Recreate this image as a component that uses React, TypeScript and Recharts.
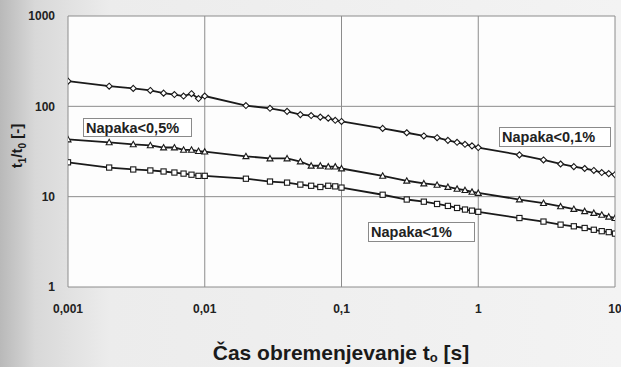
import React from "react";
import { LineChart, Line, XAxis, YAxis, CartesianGrid } from "recharts";

// time points [s]
const TIMES = [
    0.001, 0.002, 0.003, 0.004, 0.005, 0.006, 0.007, 0.008, 0.009,
    0.01, 0.02, 0.03, 0.04, 0.05, 0.06, 0.07, 0.08, 0.09,
    0.1, 0.2, 0.3, 0.4, 0.5, 0.6, 0.7, 0.8, 0.9,
    1, 2, 3, 4, 5, 6, 7, 8, 9, 10,
];

// t1/t0 per error limit
const ERR_01 = [
    190, 167, 158, 150, 140, 135, 130, 138, 122,
    130, 102, 95, 88, 81, 79, 76, 74, 70,
    68, 57, 51, 47, 45, 42, 40, 38, 36.5,
    35, 29, 25.5, 23, 21.5, 20.5, 19.5, 18.5, 18, 17.5,
];
const ERR_05 = [
    43, 40, 38, 37, 35, 35, 33, 33, 32,
    31.5, 28, 26.5, 26.5, 24.5, 22, 22, 21.5, 21.5,
    20.5, 17, 15, 14, 13.5, 12.8, 12.2, 11.8, 11.3,
    11, 9.3, 8.5, 7.8, 7.3, 6.9, 6.6, 6.3, 6.0, 5.8,
];
const ERR_1 = [
    24, 21, 20, 19.5, 19, 18.5, 18, 17.5, 17,
    17, 15.8, 14.7, 14.3, 13.6, 13.2, 12.8, 13.2, 13,
    12.6, 10.5, 9.3, 8.8, 8.3, 7.9, 7.5, 7.2, 7.0,
    6.8, 5.8, 5.3, 4.9, 4.7, 4.5, 4.3, 4.15, 4.05, 3.9,
];

const X_TICKS = [0.001, 0.01, 0.1, 1, 10];
const Y_TICKS = [1, 10, 100, 1000];

const toData = (vals: number[]) => TIMES.map((t, i) => ({ t, v: vals[i] }));

const INK = "#1a1a1a";
const FONT = "'Liberation Sans', Arial, sans-serif";

const Diamond = (p: any) => {
    const { cx, cy } = p;
    if (cx == null || cy == null) return null;
    const r = 3;
    return <path d={`M${cx},${cy - r}L${cx + r},${cy}L${cx},${cy + r}L${cx - r},${cy}Z`} fill="#fff" stroke={INK} strokeWidth={1.1} />;
};
const Triangle = (p: any) => {
    const { cx, cy } = p;
    if (cx == null || cy == null) return null;
    const r = 3;
    return <path d={`M${cx},${cy - r}L${cx + r},${cy + r * 0.8}L${cx - r},${cy + r * 0.8}Z`} fill="#fff" stroke={INK} strokeWidth={1.1} />;
};
const Square = (p: any) => {
    const { cx, cy } = p;
    if (cx == null || cy == null) return null;
    const r = 2.6;
    return <rect x={cx - r} y={cy - r} width={r * 2} height={r * 2} fill="#fff" stroke={INK} strokeWidth={1.1} />;
};

const fmt = (v: number) => String(v).replace(".", ",");

const boxStyle: React.CSSProperties = {
    position: "absolute",
    background: "#fff",
    border: "1px solid #8a8a8a",
    fontFamily: FONT,
    fontSize: 14.5,
    fontWeight: 700,
    color: "#222",
    lineHeight: "18px",
    paddingLeft: 2,
    boxSizing: "border-box",
    whiteSpace: "nowrap",
};

export default function App() {
    return (
        <div
            style={{
                position: "absolute",
                left: 0,
                top: 0,
                width: 621,
                height: 367,
                background: "linear-gradient(to right, #b9b9b9 0px, #d8d8d8 35px, #ececec 110px, #f3f3f3 100%)",
                fontFamily: FONT,
            }}
        >
            <LineChart width={621} height={367} data={toData(ERR_01)} margin={{ top: 16, right: 6, bottom: 50, left: 0 }}>
                <CartesianGrid stroke="#8c8c8c" fill="#fdfdfd" horizontalValues={Y_TICKS} verticalValues={X_TICKS} />
                <XAxis
                    dataKey="t"
                    type="number"
                    scale="log"
                    domain={[0.001, 10]}
                    ticks={X_TICKS}
                    tickFormatter={fmt}
                    allowDataOverflow
                    axisLine={false}
                    tickLine={false}
                    height={30}
                    tick={{ fontSize: 12, fontWeight: 700, fill: "#222", fontFamily: FONT }}
                    tickMargin={11}
                    interval={0}
                />
                <YAxis
                    dataKey="v"
                    type="number"
                    scale="log"
                    domain={[1, 1000]}
                    ticks={Y_TICKS}
                    allowDataOverflow
                    axisLine={false}
                    tickLine={false}
                    width={68}
                    tick={{ fontSize: 12, fontWeight: 700, fill: "#222", fontFamily: FONT }}
                    tickMargin={7}
                    interval={0}
                />
                <Line data={toData(ERR_01)} dataKey="v" stroke={INK} strokeWidth={1.8} dot={<Diamond />} isAnimationActive={false} />
                <Line data={toData(ERR_05)} dataKey="v" stroke={INK} strokeWidth={1.8} dot={<Triangle />} isAnimationActive={false} />
                <Line data={toData(ERR_1)} dataKey="v" stroke={INK} strokeWidth={1.8} dot={<Square />} isAnimationActive={false} />
            </LineChart>

            <svg width={621} height={367} style={{ position: "absolute", left: 0, top: 0, pointerEvents: "none" }}>
                <text
                    transform="translate(22,146) rotate(-90)"
                    textAnchor="middle"
                    fontFamily={FONT}
                    fontWeight={700}
                    fontSize={15}
                    fill="#1a1a1a"
                >
                    t<tspan fontSize={10} dy={4}>1</tspan>
                    <tspan dy={-4}>/t</tspan>
                    <tspan fontSize={10} dy={4}>0</tspan>
                    <tspan dy={-4}> [-]</tspan>
                </text>
                <text x={341} y={360} textAnchor="middle" fontFamily={FONT} fontWeight={700} fontSize={21} fill="#1a1a1a">
                    Čas obremenjevanje t<tspan fontSize={13} dy={2}>o</tspan>
                    <tspan dy={-2}> [s]</tspan>
                </text>
            </svg>

            <div style={{ ...boxStyle, left: 83, top: 118, width: 109, height: 19 }}>Napaka&lt;0,5%</div>
            <div style={{ ...boxStyle, left: 499, top: 127, width: 112, height: 20 }}>Napaka&lt;0,1%</div>
            <div style={{ ...boxStyle, left: 368, top: 222, width: 107, height: 20 }}>Napaka&lt;1%</div>
        </div>
    );
}
